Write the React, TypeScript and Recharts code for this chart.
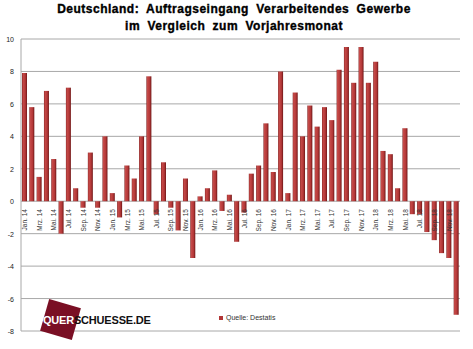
import * as React from 'react';
import { BarChart, Bar, XAxis, YAxis, CartesianGrid, Legend } from 'recharts';

// Auftragseingang Verarbeitendes Gewerbe, Veränderung zum Vorjahresmonat in %
const categories = [
  'Jan. 14', 'Feb. 14', 'Mrz. 14', 'Apr. 14', 'Mai. 14', 'Jun. 14', 'Jul. 14', 'Aug. 14', 'Sep. 14', 'Okt. 14', 'Nov. 14', 'Dez. 14',
  'Jan. 15', 'Feb. 15', 'Mrz. 15', 'Apr. 15', 'Mai. 15', 'Jun. 15', 'Jul. 15', 'Aug. 15', 'Sep. 15', 'Okt. 15', 'Nov. 15', 'Dez. 15',
  'Jan. 16', 'Feb. 16', 'Mrz. 16', 'Apr. 16', 'Mai. 16', 'Jun. 16', 'Jul. 16', 'Aug. 16', 'Sep. 16', 'Okt. 16', 'Nov. 16', 'Dez. 16',
  'Jan. 17', 'Feb. 17', 'Mrz. 17', 'Apr. 17', 'Mai. 17', 'Jun. 17', 'Jul. 17', 'Aug. 17', 'Sep. 17', 'Okt. 17', 'Nov. 17', 'Dez. 17',
  'Jan. 18', 'Feb. 18', 'Mrz. 18', 'Apr. 18', 'Mai. 18', 'Jun. 18', 'Jul. 18', 'Aug. 18', 'Sep. 18', 'Okt. 18', 'Nov. 18', 'Dez. 18',
];

const values = [
  7.9, 5.8, 1.5, 6.8, 2.6, -2.0, 7.0, 0.8, -0.4, 3.0, -0.4, 4.0,
  0.5, -1.0, 2.2, 1.4, 4.0, 7.7, -0.8, 2.4, -0.4, -1.8, 1.4, -3.5,
  0.3, 0.8, 1.9, -0.6, 0.4, -2.5, -0.7, 1.7, 2.2, 4.8, 1.8, 8.0,
  0.5, 6.7, 4.0, 5.9, 4.6, 5.8, 5.0, 8.1, 9.5, 7.3, 9.5, 7.3,
  8.6, 3.1, 2.9, 0.8, 4.5, -0.8, -0.8, -1.9, -2.4, -3.2, -3.5, -7.0,
];

const yTicks = [-8, -6, -4, -2, 0, 2, 4, 6, 8, 10];

const W = 473;
const H = 349;
const PLOT_TOP = 39;
const X_AXIS_H = 11;
const PLOT_BOTTOM = H - X_AXIS_H;
const Y_MIN = -8;
const Y_MAX = 10;
const ZERO_Y = PLOT_TOP + ((PLOT_BOTTOM - PLOT_TOP) * Y_MAX) / (Y_MAX - Y_MIN);

const data = categories.map((name, i) => ({ name, value: values[i] }));

// month labels sit just under the zero line, rotated
function MonthTick(props: any) {
  const { x, payload } = props;
  return (
    <text
      transform={`translate(${x + 2.5},${ZERO_Y + 4}) rotate(-90)`}
      textAnchor="end"
      fontSize={6.5}
      fill="#333"
      fontFamily="Liberation Sans, Arial, sans-serif"
    >
      {payload.value}
    </text>
  );
}

function ValueTick(props: any) {
  const { y, payload } = props;
  return (
    <text
      x={14}
      y={y + 3}
      textAnchor="end"
      fontSize={7}
      fill="#222"
      fontFamily="Liberation Sans, Arial, sans-serif"
    >
      {payload.value}
    </text>
  );
}

function SourceLegend() {
  return (
    <div style={{ display: 'flex', alignItems: 'center', fontFamily: 'Liberation Sans, Arial, sans-serif', fontSize: 7, color: '#333' }}>
      <span style={{ width: 4, height: 4, background: '#b23636', marginRight: 3, display: 'inline-block' }} />
      Quelle: Destatis
    </div>
  );
}

export default function App() {
  return (
    <div style={{ position: 'absolute', left: 0, top: 0, width: W, height: H, background: '#fff' }}>
      <BarChart
        width={W}
        height={H}
        data={data}
        margin={{ top: PLOT_TOP, right: 13, left: 1, bottom: 0 }}
        barCategoryGap="28%"
      >
        <defs>
          <linearGradient id="barFill" x1="0" y1="0" x2="1" y2="0">
            <stop offset="0%" stopColor="#7a1c1c" />
            <stop offset="18%" stopColor="#c64b49" />
            <stop offset="65%" stopColor="#b43838" />
            <stop offset="100%" stopColor="#6e1616" />
          </linearGradient>
        </defs>
        <CartesianGrid vertical={false} stroke="#a8a8a8" />
        <XAxis
          dataKey="name"
          height={X_AXIS_H}
          interval={1}
          axisLine={false}
          tickLine={false}
          tick={<MonthTick />}
        />
        <YAxis
          width={20}
          domain={[Y_MIN, Y_MAX]}
          ticks={yTicks}
          axisLine={{ stroke: '#a8a8a8' }}
          tickLine={false}
          tick={<ValueTick />}
        />
        <Legend
          content={<SourceLegend />}
          wrapperStyle={{ position: 'absolute', left: 219, top: 314, width: 80, bottom: 'auto' }}
        />
        <Bar dataKey="value" fill="url(#barFill)" barSize={5} isAnimationActive={false} />
      </BarChart>

      <svg width={W} height={H} style={{ position: 'absolute', left: 0, top: 0, pointerEvents: 'none' }}>
        <g fontFamily="Liberation Sans, Arial, sans-serif" fontWeight="bold" fill="#000" stroke="#000" strokeWidth={0.35} textAnchor="middle">
          <text x={234} y={13} fontSize={12} letterSpacing={0.5} wordSpacing={3.5}>
            Deutschland: Auftragseingang Verarbeitendes Gewerbe
          </text>
          <text x={234} y={30} fontSize={12} letterSpacing={0.5} wordSpacing={3.5}>
            im Vergleich zum Vorjahresmonat
          </text>
        </g>
        <rect x={44} y={303} width={33} height={33} fill="#7a0f24" transform="rotate(16 60.5 319.5)" />
        <text x={43} y={324} fontFamily="Liberation Sans, Arial, sans-serif" fontWeight="bold" fontSize={11} letterSpacing={-0.2}>
          <tspan fill="#fff">QUER</tspan>
          <tspan fill="#111">SCHUESSE.DE</tspan>
        </text>
      </svg>
    </div>
  );
}
